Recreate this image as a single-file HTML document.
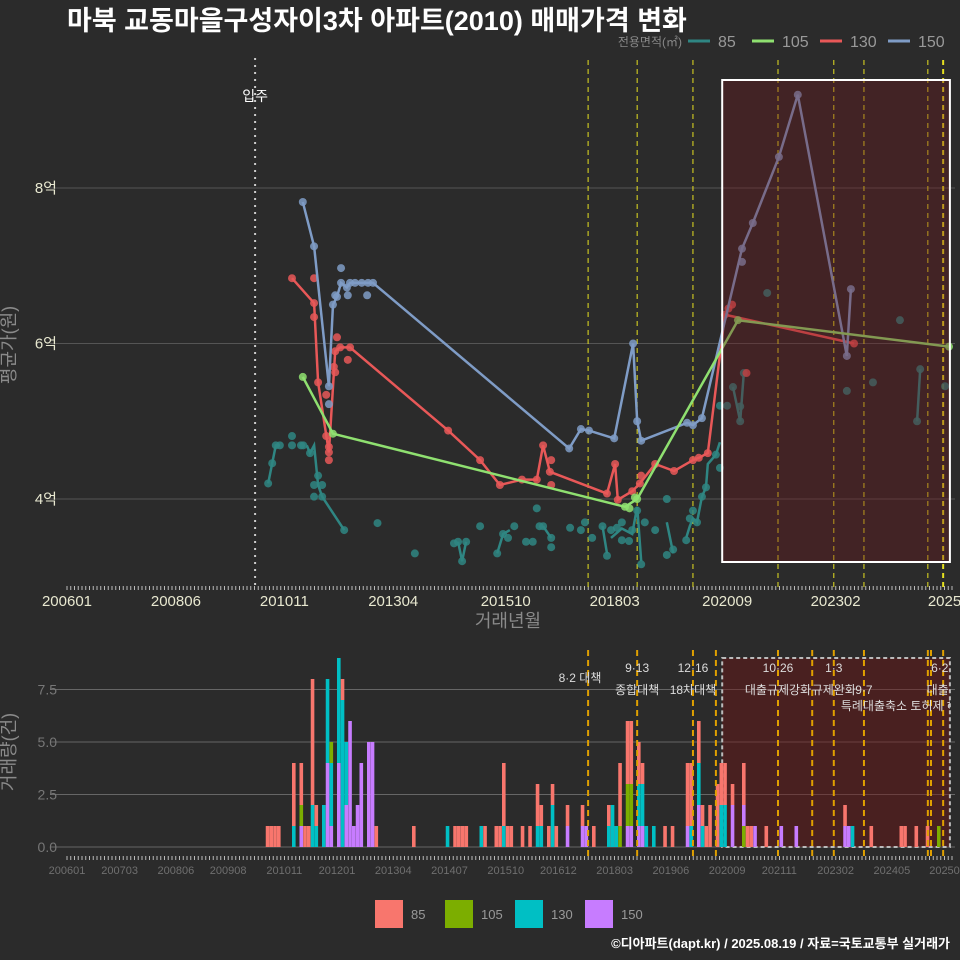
<!DOCTYPE html>
<html><head><meta charset="utf-8">
<style>
html,body{margin:0;padding:0;background:#2b2b2b;}
svg{display:block;font-family:"Liberation Sans","Noto Sans CJK KR",sans-serif;}
</style></head>
<body>
<svg id="chart" width="960" height="960" viewBox="0 0 960 960" xmlns="http://www.w3.org/2000/svg">
<rect x="0" y="0" width="960" height="960" fill="#2b2b2b"/>
<text x="67" y="30" fill="#ffffff" font-size="27" font-weight="bold">마북 교동마을구성자이3차 아파트(2010) 매매가격 변화</text>
<g id="legendTop"></g>
<g id="topPanel"></g>
<g id="bottomPanel"></g>
<text x="15" y="345" fill="#8a8a8a" font-size="18" text-anchor="middle" transform="rotate(-90 15 345)">평균가(원)</text>
<text x="508" y="627" fill="#8a8a8a" font-size="18" text-anchor="middle">거래년월</text>
<text x="15" y="752" fill="#8a8a8a" font-size="18" text-anchor="middle" transform="rotate(-90 15 752)">거래량(건)</text>
<g id="legendBottom"></g>
<text x="950" y="948" fill="#ffffff" font-size="13" font-weight="bold" text-anchor="end">©디아파트(dapt.kr) / 2025.08.19 / 자료=국토교통부 실거래가</text>
</svg>
<script>
// ---- data ----
const types = ["85","105","130","150"];
const priceTicks = [4,6,8];
const priceTickLabels = ["4억","6억","8억"];
const xTickYears = [2006.0,2008.42,2010.83,2013.25,2015.75,2018.17,2020.67,2023.08,2025.5];
const xTickLabels = ["200601","200806","201011","201304","201510","201803","202009","202302","2025"];
const xTickYearsB = [2006.0,2007.17,2008.42,2009.58,2010.83,2012.0,2013.25,2014.5,2015.75,2016.92,2018.17,2019.42,2020.67,2021.83,2023.08,2024.33,2025.5];
const xTickLabelsB = ["200601","200703","200806","200908","201011","201201","201304","201407","201510","201612","201803","201906","202009","202111","202302","202405","20250"];
const volTicks = [0,2.5,5,7.5];
const volTickLabels = ["0.0","2.5","5.0","7.5"];
const moveInYear = 2010.18;
const policyYears = [2017.58,2018.67,2019.91,2021.8,2023.04,2023.71,2025.13,2025.47];
const policyYearsB = [2017.58,2018.67,2019.91,2020.42,2021.8,2022.56,2023.04,2023.71,2025.13,2025.2,2025.47];
const boxRange = [2020.56,2025.62];

const line150 = [[2011.24,7.82],[2011.49,7.25],[2011.82,5.45],[2011.91,6.5],[2012.0,6.6],[2012.09,6.78],[2012.22,6.72],[2012.29,6.78],[2012.8,6.78],[2017.16,4.65],[2017.42,4.9],[2017.6,4.88],[2018.16,4.78],[2018.58,6.0],[2018.67,5.0],[2018.76,4.75],[2019.78,4.98],[2019.91,4.95],[2020.11,5.04],[2021.0,7.22],[2021.24,7.55],[2021.82,8.4],[2022.24,9.2],[2023.33,5.84],[2023.42,6.7]];
const pts150 = [[2011.82,5.22],[2011.96,6.62],[2012.09,6.97],[2012.24,6.62],[2012.67,6.62],[2012.4,6.78],[2012.55,6.78],[2012.69,6.78],[2021.0,7.05]];
const line130 = [[2011.0,6.84],[2011.49,6.52],[2011.58,5.5],[2011.82,4.6],[2011.96,5.9],[2012.07,5.95],[2012.29,5.95],[2014.47,4.88],[2015.18,4.5],[2015.62,4.18],[2016.11,4.25],[2016.44,4.25],[2016.58,4.69],[2016.73,4.35],[2018.0,4.07],[2018.18,4.45],[2018.24,3.99],[2018.56,4.1],[2018.73,4.2],[2019.07,4.45],[2019.49,4.36],[2019.91,4.5],[2020.04,4.53],[2020.24,4.59],[2020.62,6.37],[2023.49,6.0]];
const pts130 = [[2011.49,6.84],[2011.49,6.34],[2011.76,5.34],[2012.0,6.08],[2011.93,5.7],[2011.96,5.63],[2012.24,5.79],[2011.76,4.81],[2011.82,4.5],[2011.82,4.67],[2016.76,4.5],[2016.76,4.18],[2018.76,4.3],[2020.78,6.5],[2020.7,6.45],[2021.1,5.62]];
const line105 = [[2011.24,5.57],[2011.91,4.84],[2018.4,3.9],[2018.67,4.0],[2020.91,6.3],[2025.6,5.96]];
const pts105 = [[2018.5,3.88],[2018.62,4.02]];
const line85 = [
 [[2010.47,4.2],[2010.56,4.46],[2010.64,4.69],[2010.73,4.69]],
 [[2011.33,4.69],[2011.4,4.59],[2011.49,4.69],[2011.58,4.18],[2011.67,4.03],[2012.16,3.6]],
 [[2014.69,3.45],[2014.78,3.2],[2014.87,3.45]],
 [[2015.56,3.3],[2015.69,3.55],[2015.84,3.6]],
 [[2016.58,3.65],[2016.76,3.5]],
 [[2017.9,3.65],[2018.0,3.3]],
 [[2018.09,3.5],[2018.33,3.62],[2018.56,3.55],[2018.67,3.9],[2018.76,3.2]],
 [[2018.84,3.65]],
 [[2019.33,3.7],[2019.47,3.3]],
 [[2019.76,3.5],[2019.84,3.65],[2019.91,3.75],[2020.0,3.7],[2020.11,4.03],[2020.2,4.15],[2020.24,4.45],[2020.42,4.57],[2020.51,4.73]],
 [[2020.8,5.44],[2020.96,5.0],[2021.04,5.62]],
 [[2024.89,5.0],[2024.96,5.67]]
];
const pts85 = [[2010.47,4.2],[2010.56,4.46],[2010.64,4.69],[2010.73,4.69],[2011.0,4.81],[2011.0,4.69],[2011.2,4.69],[2011.25,4.69],[2011.4,4.59],[2011.49,4.18],[2011.49,4.03],[2011.67,4.18],[2011.67,4.03],[2011.58,4.3],[2012.16,3.6],[2012.9,3.69],[2013.73,3.3],[2014.69,3.45],[2014.78,3.2],[2014.87,3.45],[2014.6,3.43],[2015.18,3.65],[2015.56,3.3],[2015.69,3.55],[2015.8,3.5],[2015.94,3.65],[2016.2,3.45],[2016.35,3.45],[2016.44,3.88],[2016.5,3.65],[2016.58,3.65],[2016.76,3.5],[2016.76,3.38],[2017.18,3.63],[2017.42,3.6],[2017.51,3.7],[2017.67,3.5],[2017.9,3.65],[2018.0,3.27],[2018.09,3.6],[2018.22,3.63],[2018.33,3.7],[2018.33,3.47],[2018.49,3.46],[2018.56,3.6],[2018.67,3.85],[2018.76,3.16],[2018.84,3.7],[2019.07,3.6],[2019.33,4.0],[2019.33,3.28],[2019.47,3.35],[2019.76,3.47],[2019.84,3.75],[2019.91,3.85],[2020.0,3.7],[2020.11,4.03],[2020.2,4.15],[2020.42,4.57],[2020.51,4.4],[2020.51,5.2],[2020.67,5.2],[2020.8,5.44],[2020.96,5.0],[2020.96,5.19],[2021.04,5.62],[2021.56,6.65],[2023.33,5.39],[2023.91,5.5],[2024.51,6.3],[2024.89,5.0],[2024.96,5.67],[2025.51,5.45]];

// bars: [year, c85, c105, c130, c150]
const bars = [[2010.47,1,0,0,0],[2010.56,1,0,0,0],[2010.64,1,0,0,0],[2010.73,1,0,0,0],[2011.0,3,0,1,0],[2011.18,1,0,0,0],[2011.24,2,1,0,1],[2011.33,1,0,0,0],[2011.4,1,0,0,0],[2011.49,6,0,2,0],[2011.58,1,0,1,0],[2011.67,2,0,0,0],[2011.73,0,0,2,0],[2011.82,0,0,4,4],[2011.91,0,1,3,1],[2012.0,0,0,5,1],[2012.07,0,0,5,4],[2012.16,1,0,7,0],[2012.24,0,0,3,2],[2012.33,0,0,0,6],[2012.4,0,0,0,1],[2012.49,0,0,0,2],[2012.58,0,0,0,4],[2012.69,0,0,0,5],[2012.76,0,0,0,5],[2012.91,1,0,0,0],[2013.67,1,0,0,0],[2014.47,0,0,1,0],[2014.62,1,0,0,0],[2014.69,1,0,0,0],[2014.78,1,0,0,0],[2014.87,1,0,0,0],[2015.18,0,0,1,0],[2015.27,1,0,0,0],[2015.56,1,0,0,0],[2015.62,1,0,0,0],[2015.69,3,0,1,0],[2015.78,1,0,0,0],[2015.91,1,0,0,0],[2016.11,1,0,0,0],[2016.33,1,0,0,0],[2016.44,2,0,1,0],[2016.58,1,0,1,0],[2016.67,1,0,0,0],[2016.76,1,0,2,0],[2016.87,1,0,0,0],[2017.16,1,0,0,1],[2017.42,1,0,0,1],[2017.51,1,0,0,0],[2017.58,0,0,0,1],[2017.67,1,0,0,0],[2018.0,1,0,1,0],[2018.09,1,0,0,0],[2018.16,0,0,2,0],[2018.24,0,0,1,0],[2018.33,3,1,0,0],[2018.49,3,2,0,1],[2018.58,3,2,0,1],[2018.67,2,0,2,1],[2018.76,1,0,2,1],[2018.84,0,0,1,0],[2019.07,0,0,1,0],[2019.33,1,0,0,0],[2019.47,1,0,0,0],[2019.76,3,0,0,1],[2019.84,4,0,0,0],[2019.91,1,0,1,0],[2020.0,2,0,2,2],[2020.11,1,0,1,0],[2020.24,1,0,0,0],[2020.31,2,0,0,0],[2020.42,3,0,0,0],[2020.51,2,0,2,0],[2020.62,2,0,2,0],[2020.8,1,0,0,2],[2021.0,2,0,0,2],[2021.07,0,1,0,0],[2021.13,1,0,0,0],[2021.22,1,0,0,0],[2021.29,0,0,0,1],[2021.58,1,0,0,0],[2021.84,0,0,0,1],[2022.24,0,0,0,1],[2023.31,1,0,0,1],[2023.38,0,0,0,1],[2023.47,0,0,1,0],[2023.89,1,0,0,0],[2024.51,1,0,0,0],[2024.62,1,0,0,0],[2024.89,1,0,0,0],[2025.16,1,0,0,0],[2025.4,0,1,0,0]];

const annTop = [[2017.4,"8·2 대책",678],[2018.67,"9·13",668],[2018.67,"종합대책",690],[2019.91,"12·16",668],[2019.91,"18차대책",690],[2021.8,"10·26",668],[2021.8,"대출규제강화",690],[2023.04,"1·3",668],[2023.04,"규제완화",690],[2023.71,"9·7",690],[2024.62,"특례대출축소 토허제 해지",706],[2025.47,"6·27",668],[2025.47,"대출규",690]];

// ---- scales ----
const NS = "http://www.w3.org/2000/svg";
function xs(t){ return 67 + (t-2006)*45; }
function ys(v){ return 499 - (v-4)*77.75; }
function yb(c){ return 847 - c*21; }
function mk(tag, attrs, parent){ const e=document.createElementNS(NS,tag); for(const k in attrs) e.setAttribute(k,attrs[k]); parent.appendChild(e); return e; }
const topG = document.getElementById('topPanel');
const botG = document.getElementById('bottomPanel');
const lineCol = {"85":"#2f8683","105":"#8fe070","130":"#e85858","150":"#7f9cc6"};
const barCol = {"85":"#F8766D","105":"#7CAE00","130":"#00BFC4","150":"#C77CFF"};

priceTicks.forEach((v,i)=>{
  const g=mk('line',{x1:50,x2:955,y1:ys(v),y2:ys(v),stroke:'#555',"stroke-width":1},topG);
  
  
  const t=mk('text',{x:57,y:ys(v)+5,fill:'#e8e8d0',"font-size":15,"text-anchor":"end"},topG);
  t.textContent=priceTickLabels[i];
  
  
});
for(let m=0;m<=236;m++){
  const x=67+m*3.75;
  const a=mk('line',{x1:x,x2:x,y1:586,y2:590,stroke:'#bbb',"stroke-width":1},topG);
  
  
  const b=mk('line',{x1:x,x2:x,y1:856,y2:860,stroke:'#bbb',"stroke-width":1},botG);
  
  
}
xTickYears.forEach((t,i)=>{
  const e=mk('text',{x:xs(t),y:606,fill:'#e8e8d0',"font-size":15,"text-anchor":"middle"},topG);
  e.textContent=xTickLabels[i];
  
  
});
const mv=mk('line',{x1:xs(moveInYear),x2:xs(moveInYear),y1:58,y2:588,stroke:'#ccc',"stroke-width":2,"stroke-dasharray":"2,5"},topG);


const mvt=mk('text',{x:xs(moveInYear),y:101,fill:'#fff',"font-size":14,"text-anchor":"middle"},topG);
mvt.textContent='입주';


policyYears.forEach((t,i)=>{
  const e=mk('line',{x1:xs(t),x2:xs(t),y1:60,y2:590,stroke:'#e6e020',"stroke-width":i==policyYears.length-1?2:1,"stroke-dasharray":"5,4"},topG);
  
  
});
function path(arr){ return arr.map((p,i)=>(i?'L':'M')+xs(p[0]).toFixed(1)+' '+ys(p[1]).toFixed(1)).join(' '); }
function drawPts(arr,col){ arr.forEach(p=>{ const c=mk('circle',{cx:xs(p[0]),cy:ys(p[1]),r:4,fill:col,opacity:0.85},topG);
  
   }); }
line85.forEach(seg=>{ const e=mk('path',{d:path(seg),fill:'none',stroke:lineCol["85"],"stroke-width":2.5},topG);
  
   });
drawPts(pts85,lineCol["85"]);
[[line130,pts130,"130"],[line150,pts150,"150"],[line105,pts105,"105"]].forEach(([ln,pt,k])=>{
  const e=mk('path',{d:path(ln),fill:'none',stroke:lineCol[k],"stroke-width":2.5},topG);
  
  
  drawPts(ln,lineCol[k]); drawPts(pt,lineCol[k]);
});
const box=mk('rect',{x:xs(boxRange[0]),y:80,width:xs(boxRange[1])-xs(boxRange[0]),height:482,fill:'rgba(110,20,25,0.35)',stroke:'#fff',"stroke-width":2},topG);



const lg=document.getElementById('legendTop');
const lt=mk('text',{x:682,y:46,fill:'#888',"font-size":12,"text-anchor":"end"},lg);
lt.textContent='전용면적(㎡)';


const lx=[688,752,820,888];
types.forEach((k,i)=>{
  const l=mk('line',{x1:lx[i],x2:lx[i]+22,y1:41,y2:41,stroke:lineCol[k],"stroke-width":3},lg);
  
  
  const t=mk('text',{x:lx[i]+30,y:47,fill:'#999',"font-size":16},lg);
  t.textContent=k;
  
  
});

volTicks.forEach((v,i)=>{
  const g=mk('line',{x1:50,x2:955,y1:yb(v),y2:yb(v),stroke:'#666',"stroke-width":1},botG);
  
  
  const t=mk('text',{x:57,y:yb(v)+5,fill:'#777',"font-size":14,"text-anchor":"end"},botG);
  t.textContent=volTickLabels[i];
  
  
});
xTickYearsB.forEach((t,i)=>{
  const e=mk('text',{x:xs(t),y:874,fill:'#6f6f6f',"font-size":11,"text-anchor":"middle"},botG);
  e.textContent=xTickLabelsB[i];
  
  
});
const bbox=mk('rect',{x:xs(boxRange[0]),y:658,width:xs(boxRange[1])-xs(boxRange[0]),height:189,fill:'rgba(110,20,20,0.45)',stroke:'#bbb',"stroke-width":2,"stroke-dasharray":"4,3"},botG);


bars.forEach(b=>{
  const x=xs(Math.floor(b[0]*12+0.001)/12);
  let acc=0;
  [[4,"150"],[3,"130"],[2,"105"],[1,"85"]].forEach(([idx,k])=>{
    const c=b[idx]; if(!c) return;
    const r=mk('rect',{x:x,y:yb(acc+c),width:3.6,height:c*21,fill:barCol[k]},botG);
    
    
    acc+=c;
  });
});
policyYearsB.forEach(t=>{
  const e=mk('line',{x1:xs(t),x2:xs(t),y1:650,y2:856,stroke:'#e0a000',"stroke-width":2,"stroke-dasharray":"6,4"},botG);
  
  
});
const clip=mk('clipPath',{id:'annclip'},botG); mk('rect',{x:0,y:640,width:950,height:100},clip);
const ag=mk('g',{"clip-path":"url(#annclip)"},botG);
annTop.forEach(a=>{
  const e=mk('text',{x:xs(a[0]),y:a[2]+4,fill:'#ddd',"font-size":12,"text-anchor":"middle"},ag);
  e.textContent=a[1];
  
  
});
const lb=document.getElementById('legendBottom');
const bx=[375,445,515,585];
types.forEach((k,i)=>{
  const r=mk('rect',{x:bx[i],y:900,width:28,height:28,fill:barCol[k]},lb);
  
  
  const t=mk('text',{x:bx[i]+36,y:919,fill:'#999',"font-size":13},lb);
  t.textContent=k;
  
  
});
</script>
</body></html>
